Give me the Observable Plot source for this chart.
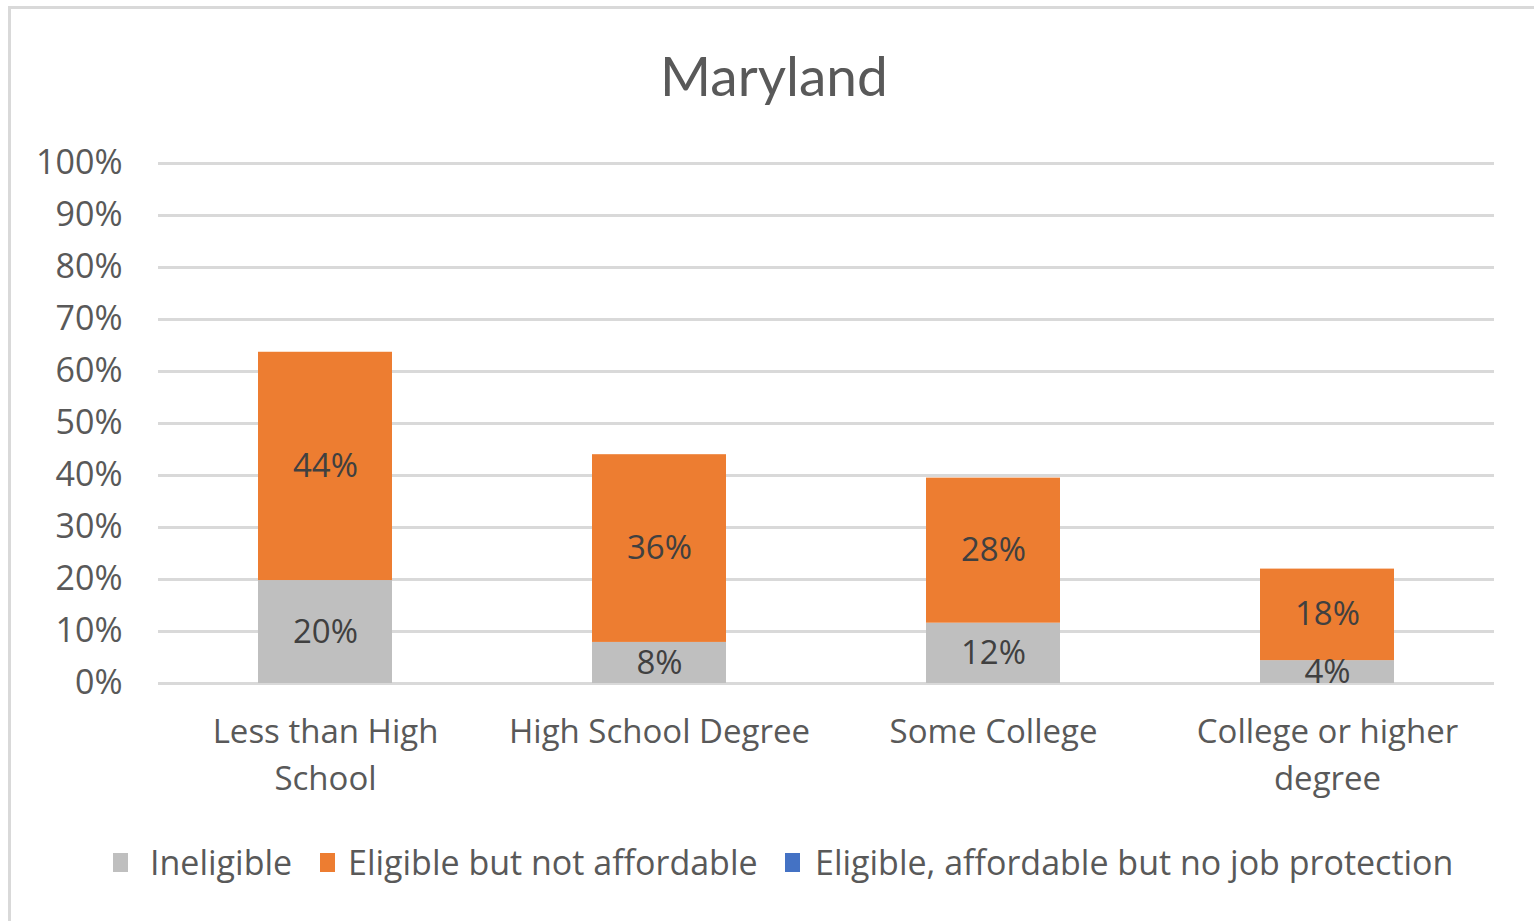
<!DOCTYPE html>
<html>
<head>
<meta charset="utf-8">
<script src="https://cdn.jsdelivr.net/npm/d3@7"></script>
<script src="https://cdn.jsdelivr.net/npm/@observablehq/plot@0.6"></script>
<style>
  html, body { margin: 0; padding: 0; background: #fff; overflow: hidden; width: 1534px; height: 921px; }
  body { font-family: "Open Sans", Lato, sans-serif; color: #595959; position: relative; }
  #frame { position: absolute; left: 8px; top: 6px; width: 1560px; height: 960px; border: 3px solid #d9d9d9; box-sizing: border-box; }
  #title { position: absolute; left: 0; top: 44px; width: 1548px; text-align: center; font-family: Lato, sans-serif; font-size: 55px; line-height: 62px; color: #595959; }
  #chart { position: absolute; left: 0; top: 130px; }
  #legend { position: absolute; top: 841px; left: 0; height: 42px; }
  .item { position: absolute; top: 0; display: flex; align-items: center; height: 42px; font-size: 34px; color: #595959; white-space: nowrap; }
  .sw { width: 15px; height: 19px; }
</style>
</head>
<body>
<div id="frame"></div>
<div id="title">Maryland</div>
<div id="chart"></div>
<div id="legend"></div>
<script>
const categories = ["Less than High School", "High School Degree", "Some College", "College or higher degree"];
const categoryLabels = ["Less than High\nSchool", "High School Degree", "Some College", "College or higher\ndegree"];
const seriesNames = ["Ineligible", "Eligible but not affordable", "Eligible, affordable but no job protection"];
const ineligible = [19.8, 7.9, 11.6, 4.4];
const notAffordable = [43.9, 36.1, 27.9, 17.6];
const noJobProtection = [0, 0, 0, 0];
const colors = ["#bfbfbf", "#ed7d31", "#4472c4"];
const yTicks = [0, 10, 20, 30, 40, 50, 60, 70, 80, 90, 100];

const seriesValues = [ineligible, notAffordable, noJobProtection];
const data = [];
seriesNames.forEach((s, si) => {
  categories.forEach((c, ci) => {
    data.push({category: c, series: s, value: seriesValues[si][ci]});
  });
});

const W = 1534, H = 680;
const chart = Plot.plot({
  width: W,
  height: H,
  marginLeft: 158,
  marginRight: 40,
  marginTop: 33,
  marginBottom: 127,
  style: {fontFamily: "'Open Sans', Lato, sans-serif", fontSize: "33px", color: "#595959", background: "transparent", overflow: "visible"},
  x: {domain: categories, paddingInner: 0.6, paddingOuter: 0.3, label: null},
  y: {domain: [0, 100], label: null},
  color: {domain: seriesNames, range: colors},
  marks: [
    Plot.ruleY(yTicks, {stroke: "#d9d9d9", strokeWidth: 3}),
    Plot.barY(data, {x: "category", y: "value", fill: "series", order: seriesNames}),
    Plot.text(data.filter(d => d.value > 0), Plot.stackY({
      x: "category", y: "value", z: "series", order: seriesNames,
      text: d => Math.round(d.value) + "%",
      fill: "#404040", fontSize: 33
    })),
    Plot.axisY({ticks: yTicks, tickFormat: d => d + "%", tickSize: 0, tickPadding: 36, fontSize: 34, label: null}),
    Plot.axisX({tickFormat: (d) => categoryLabels[categories.indexOf(d)], tickSize: 0, tickPadding: 26, lineHeight: 1.42, fontSize: 33, label: null})
  ]
});
document.getElementById("chart").appendChild(chart);

const legendPos = [{sw: 113, tx: 150}, {sw: 320, tx: 348}, {sw: 785, tx: 815}];
const legend = document.getElementById("legend");
seriesNames.forEach((s, i) => {
  const sw = document.createElement("div");
  sw.className = "item";
  sw.style.left = legendPos[i].sw + "px";
  sw.innerHTML = `<div class="sw" style="background:${colors[i]}"></div>`;
  legend.appendChild(sw);
  const tx = document.createElement("div");
  tx.className = "item";
  tx.style.left = legendPos[i].tx + "px";
  tx.textContent = s;
  legend.appendChild(tx);
});
</script>
</body>
</html>
